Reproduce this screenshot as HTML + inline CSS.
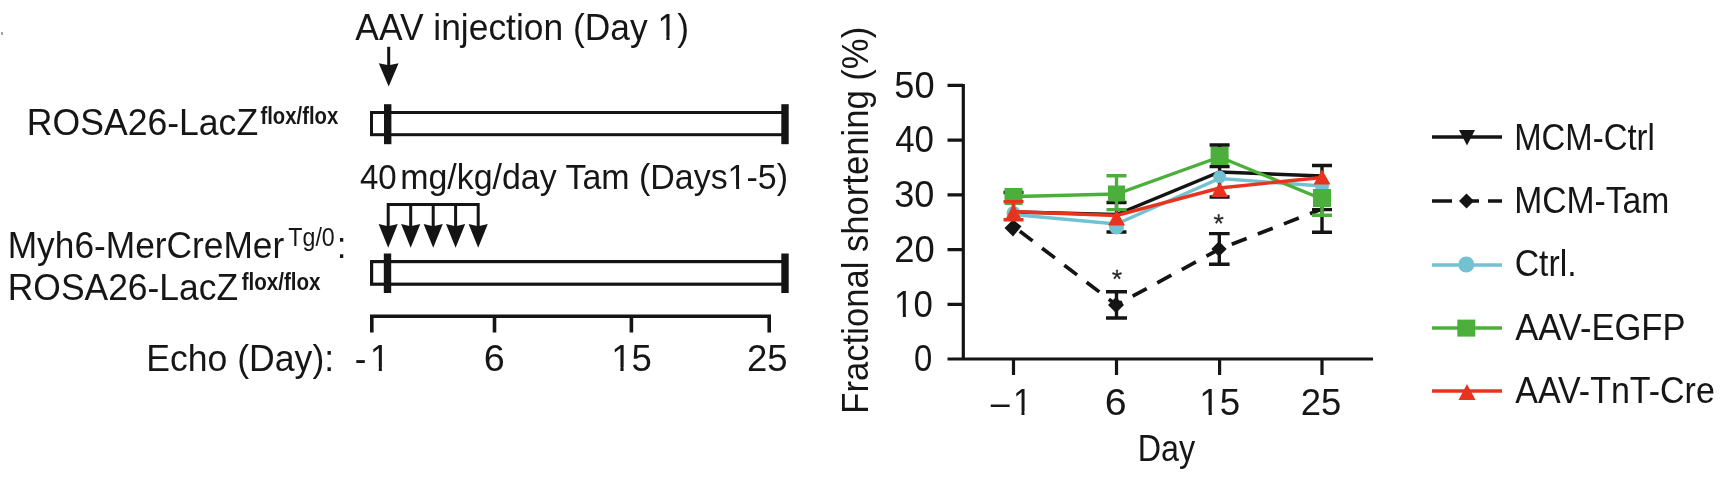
<!DOCTYPE html>
<html><head><meta charset="utf-8">
<style>
html,body{margin:0;padding:0;background:#fff;width:1722px;height:486px;overflow:hidden}
svg{display:block;will-change:transform}
text{font-family:"Liberation Sans",sans-serif;fill:#161616}
</style></head>
<body>
<svg width="1722" height="486" viewBox="0 0 1722 486">
<rect width="1722" height="486" fill="#fff"/>
<rect x="1" y="32" width="2" height="3" fill="#aaa49e"/>
<g id="left" fill="#141414" stroke="none">
  <!-- single arrow -->
  <line x1="388.7" y1="46.8" x2="388.7" y2="75" stroke="#141414" stroke-width="3"/>
  <polygon points="378.8,63.3 388.7,65.2 398.6,63.3 388.7,86.5" />
  <!-- box 1 -->
  <rect x="371.5" y="112.5" width="413" height="22.2" fill="none" stroke="#141414" stroke-width="3"/>
  <rect x="384" y="104.2" width="7.4" height="40" />
  <rect x="781.3" y="104.2" width="7.4" height="40" />
  <!-- 5 arrows -->
  <path d="M388.2,227 V204.5 H478.2 V236 M410.7,204.5 V236 M433.2,204.5 V236 M455.6,204.5 V236" fill="none" stroke="#141414" stroke-width="3"/>
  <polygon points="378.6,224 388.2,226.3 397.8,224 388.2,247.8" />
  <polygon points="401.1,224 410.7,226.3 420.3,224 410.7,247.8" />
  <polygon points="423.6,224 433.2,226.3 442.8,224 433.2,247.8" />
  <polygon points="446.0,224 455.6,226.3 465.2,224 455.6,247.8" />
  <polygon points="468.6,224 478.2,226.3 487.8,224 478.2,247.8" />
  <!-- box 2 -->
  <rect x="371.6" y="261.6" width="413" height="22.6" fill="none" stroke="#141414" stroke-width="3.2"/>
  <rect x="383.8" y="253.5" width="7.4" height="39.5" />
  <rect x="781.3" y="253.5" width="7.4" height="39.5" />
  <!-- echo axis -->
  <path d="M371.8,332.6 V316.2 H769.2 V332.6 M494.5,316.2 V332.6 M631.4,316.2 V332.6" fill="none" stroke="#141414" stroke-width="3.6"/>
</g>

<g id="chart">
  <!-- axes -->
  <path d="M963.3,84 V360.5 M947.5,359 H1373 M947.5,85.4 H963 M947.5,140.1 H963 M947.5,194.9 H963 M947.5,249.6 H963 M947.5,304.4 H963 M1013.5,359 V375 M1116.5,359 V375 M1219.6,359 V375 M1322,359 V375" fill="none" stroke="#141414" stroke-width="3.2"/>

  <!-- blue Ctrl -->
  <polyline points="1013.5,214.5 1116.5,224 1219.6,178.5 1322,186" fill="none" stroke="#72c2d2" stroke-width="3.4"/>
  <!-- black MCM-Ctrl -->
  <polyline points="1013.5,212 1116.5,214.5 1219.6,172 1322,176" fill="none" stroke="#141414" stroke-width="3.4"/>
  <path d="M1013.5,192.5 V222 M1116.5,202.5 V232 M1219.6,145 V197 M1322,165.5 V232.3
           M1003.5,192.5 H1023.5 M1106.5,202.5 H1126.5 M1106.5,232 H1126.5
           M1209.6,145 H1229.6 M1209.6,166.6 H1229.6 M1209.6,197 H1229.6
           M1312,165.5 H1332 M1312,209.6 H1332 M1312,232.3 H1332" fill="none" stroke="#141414" stroke-width="3.4"/>
  <!-- blue markers -->
  <g fill="#72c2d2">
    <circle cx="1116.5" cy="227" r="7.5"/>
    <circle cx="1219.6" cy="177" r="6.5"/>
    <circle cx="1322" cy="186" r="7"/>
    <circle cx="1013.5" cy="213" r="7"/>
  </g>
  <!-- MCM-Tam dashed -->
  <polyline points="1013.5,226.3 1116.5,305 1219.6,249 1322,209" fill="none" stroke="#141414" stroke-width="3.7" stroke-dasharray="16,12" stroke-dashoffset="-8"/>
  <path d="M1116.5,291.7 V318 M1106,291.7 H1127 M1106,318 H1127
           M1219.3,233.6 V264.2 M1209,233.6 H1229.6 M1209,264.2 H1229.6" fill="none" stroke="#141414" stroke-width="3.4"/>
  <g fill="#141414">
    <polygon points="1013,219.5 1021.5,226.3 1013,236.5 1004.5,228"/>
    <polygon points="1116,297 1124,305 1116,313 1108,305"/>
    <polygon points="1219,241.3 1226.7,249 1219,256.7 1211.3,249"/>
  </g>
  <!-- green AAV-EGFP -->
  <polyline points="1013.5,196.5 1116.5,194 1219.6,157 1322,199" fill="none" stroke="#4daf3b" stroke-width="3.4"/>
  <path d="M1116.5,175.8 V209.6 M1106.5,175.8 H1126.5 M1106.5,209.6 H1126.5
           M1322,199 V215.3 M1312,215.3 H1332" fill="none" stroke="#4daf3b" stroke-width="3.4"/>
  <g fill="#4daf3b">
    <rect x="1004.5" y="188" width="18" height="17"/>
    <rect x="1108" y="185.5" width="17" height="16"/>
    <rect x="1210.6" y="147" width="18" height="18"/>
    <rect x="1313" y="189" width="18" height="18"/>
  </g>
  <!-- red AAV-TnT-Cre -->
  <polyline points="1013.5,211.7 1116.5,215.5 1219.6,188 1322,177.5" fill="none" stroke="#e8331f" stroke-width="3.4"/>
  <path d="M1013.5,201.6 V219.7 M1003.5,201.6 H1023.5 M1003.5,219.7 H1023.5" fill="none" stroke="#e8331f" stroke-width="3.4"/>
  <g fill="#e8331f">
    <polygon points="1013.5,203.5 1022,220.5 1005,220.5"/>
    <polygon points="1116.5,210 1125,225.5 1108,225.5"/>
    <polygon points="1219.6,182 1228.1,197 1211.1,197"/>
    <polygon points="1322,169.5 1330.5,184.5 1313.5,184.5"/>
  </g>
</g>

<g id="asterisks" fill="#222" stroke="#222" stroke-width="0.5" stroke-linejoin="round">
  <path transform="translate(1117,275) scale(0.85)" d="M-0.9,-6 h1.8 l-0.3,4.6 l4.3,-1.6 l0.6,1.7 l-4.4,1.3 l2.9,3.6 l-1.5,1.1 l-2.5,-3.8 l-2.5,3.8 l-1.5,-1.1 l2.9,-3.6 l-4.4,-1.3 l0.6,-1.7 l4.3,1.6 z"/>
  <path transform="translate(1218.7,219.5) scale(0.85)" d="M-0.9,-6 h1.8 l-0.3,4.6 l4.3,-1.6 l0.6,1.7 l-4.4,1.3 l2.9,3.6 l-1.5,1.1 l-2.5,-3.8 l-2.5,3.8 l-1.5,-1.1 l2.9,-3.6 l-4.4,-1.3 l0.6,-1.7 l4.3,1.6 z"/>
</g>

<g id="legend">
  <g stroke-width="3.4" fill="none">
    <line x1="1432" y1="137" x2="1502" y2="137" stroke="#141414"/>
    <path d="M1432,201 H1452 M1466,201 H1479 M1488,201 H1502" stroke="#141414"/>
    <line x1="1432" y1="265" x2="1502" y2="265" stroke="#72c2d2"/>
    <line x1="1432" y1="328" x2="1502" y2="328" stroke="#4daf3b"/>
    <line x1="1432" y1="391" x2="1502" y2="391" stroke="#e8331f"/>
  </g>
  <polygon points="1459,130 1475,130 1467,145.5" fill="#141414"/>
  <polygon points="1466.5,193.5 1474,201 1466.5,208.5 1459,201" fill="#141414"/>
  <circle cx="1466.3" cy="264.5" r="8" fill="#72c2d2"/>
  <rect x="1457.3" y="319.6" width="18" height="17" fill="#4daf3b"/>
  <polygon points="1467,384 1475.5,400 1458.5,400" fill="#e8331f"/>
</g>

<g id="t_aav" transform="translate(0,39.70) scale(1,1.06)"><text x="355.36" y="0" font-size="35.40" textLength="333.56" lengthAdjust="spacingAndGlyphs">AAV injection (Day 1)</text><rect x="659.15" y="-3.44" width="7.21" height="4.24" fill="#fff"/><rect x="669.49" y="-3.44" width="7.13" height="4.24" fill="#fff"/></g>
<g id="t_rosa1" transform="translate(0,135.20) scale(1,1.06)"><text x="26.86" y="0" font-size="35.50" textLength="231.26" lengthAdjust="spacingAndGlyphs">ROSA26-LacZ</text></g>
<g id="t_flox1" transform="translate(0,124.20) scale(1,1.06)"><text x="260.46" y="0" font-size="22.30" font-weight="bold" textLength="77.73" lengthAdjust="spacingAndGlyphs">flox/flox</text></g>
<g id="t_40" transform="translate(0,188.60) scale(1,1.06)"><text x="359.92" y="0" font-size="33.00">40</text></g>
<g id="t_mg" transform="translate(0,188.70) scale(1,1.06)"><text x="400.20" y="0" font-size="33.50" textLength="387.74" lengthAdjust="spacingAndGlyphs">mg/kg/day Tam (Days1-5)</text><rect x="729.19" y="-3.30" width="6.95" height="4.10" fill="#fff"/><rect x="739.14" y="-3.30" width="6.89" height="4.10" fill="#fff"/></g>
<g id="t_myh6" transform="translate(0,257.60) scale(1,1.06)"><text x="7.72" y="0" font-size="35.30">Myh6-MerCreMer</text></g>
<g id="t_tg0" transform="translate(0,245.90) scale(1,1.06)"><text x="288.36" y="0" font-size="23.70" textLength="46.42" lengthAdjust="spacingAndGlyphs">Tg/0</text></g>
<g id="t_colon" transform="translate(0,257.50) scale(1,1.06)"><text x="336.63" y="0" font-size="35.00">:</text></g>
<g id="t_rosa2" transform="translate(0,299.90) scale(1,1.06)"><text x="7.72" y="0" font-size="35.50" textLength="230.45" lengthAdjust="spacingAndGlyphs">ROSA26-LacZ</text></g>
<g id="t_flox2" transform="translate(0,290.30) scale(1,1.06)"><text x="241.64" y="0" font-size="22.30" font-weight="bold" textLength="78.95" lengthAdjust="spacingAndGlyphs">flox/flox</text></g>
<g id="t_echo" transform="translate(0,371.30) scale(1,1.06)"><text x="146.28" y="0" font-size="35.50" textLength="187.86" lengthAdjust="spacingAndGlyphs">Echo (Day):</text></g>
<g id="t_em1" transform="translate(0,370.60) scale(1,1.06)"><text x="354.82" y="0" font-size="35.00">-<tspan dx="3.5">1</tspan></text><rect x="371.65" y="-3.41" width="7.14" height="4.21" fill="#fff"/><rect x="381.88" y="-3.41" width="7.06" height="4.21" fill="#fff"/></g>
<g id="t_e6" transform="translate(0,370.70) scale(1,1.06)"><text x="483.82" y="0" font-size="35.00" textLength="21.03" lengthAdjust="spacingAndGlyphs">6</text></g>
<g id="t_e15" transform="translate(0,370.70) scale(1,1.06)"><text x="611.20" y="0" font-size="35.00" textLength="40.64" lengthAdjust="spacingAndGlyphs">15</text><rect x="612.98" y="-3.41" width="7.41" height="4.21" fill="#fff"/><rect x="623.62" y="-3.41" width="7.32" height="4.21" fill="#fff"/></g>
<g id="t_e25" transform="translate(0,370.70) scale(1,1.06)"><text x="746.92" y="0" font-size="35.00" textLength="40.60" lengthAdjust="spacingAndGlyphs">25</text></g>
<g id="t_y50" transform="translate(0,97.50) scale(1,1.06)"><text x="894.28" y="0" font-size="34.00" textLength="40.28" lengthAdjust="spacingAndGlyphs">50</text></g>
<g id="t_y40" transform="translate(0,152.30) scale(1,1.06)"><text x="895.18" y="0" font-size="34.00" textLength="38.80" lengthAdjust="spacingAndGlyphs">40</text></g>
<g id="t_y30" transform="translate(0,207.00) scale(1,1.06)"><text x="894.28" y="0" font-size="34.00" textLength="40.14" lengthAdjust="spacingAndGlyphs">30</text></g>
<g id="t_y20" transform="translate(0,261.80) scale(1,1.06)"><text x="894.28" y="0" font-size="34.00" textLength="40.47" lengthAdjust="spacingAndGlyphs">20</text></g>
<g id="t_y10" transform="translate(0,317.00) scale(1,1.06)"><text x="894.10" y="0" font-size="34.00" textLength="38.71" lengthAdjust="spacingAndGlyphs">10</text><rect x="895.75" y="-3.34" width="7.10" height="4.14" fill="#fff"/><rect x="905.93" y="-3.34" width="7.03" height="4.14" fill="#fff"/></g>
<g id="t_y0" transform="translate(0,371.00) scale(1,1.06)"><text x="913.90" y="0" font-size="34.00" textLength="18.24" lengthAdjust="spacingAndGlyphs">0</text></g>
<g id="t_xm1" transform="translate(0,414.90) scale(1,1.06)"><text x="990.80" y="0" font-size="34.00">–<tspan dx="3.2">1</tspan></text><rect x="1014.50" y="-3.34" width="6.96" height="4.14" fill="#fff"/><rect x="1024.46" y="-3.34" width="6.89" height="4.14" fill="#fff"/></g>
<g id="t_x6" transform="translate(0,414.90) scale(1,1.06)"><text x="1104.82" y="0" font-size="34.00" textLength="21.86" lengthAdjust="spacingAndGlyphs">6</text></g>
<g id="t_x15" transform="translate(0,414.90) scale(1,1.06)"><text x="1199.38" y="0" font-size="34.00" textLength="40.88" lengthAdjust="spacingAndGlyphs">15</text><rect x="1201.18" y="-3.34" width="7.45" height="4.14" fill="#fff"/><rect x="1211.88" y="-3.34" width="7.36" height="4.14" fill="#fff"/></g>
<g id="t_x25" transform="translate(0,414.90) scale(1,1.06)"><text x="1300.82" y="0" font-size="34.00" textLength="40.57" lengthAdjust="spacingAndGlyphs">25</text></g>
<g id="t_day" transform="translate(0,461.40) scale(1,1.06)"><text x="1137.74" y="0" font-size="34.00" textLength="57.43" lengthAdjust="spacingAndGlyphs">Day</text></g>
<g id="t_l1" transform="translate(0,149.50) scale(1,1.06)"><text x="1514.18" y="0" font-size="34.00" textLength="140.60" lengthAdjust="spacingAndGlyphs">MCM-Ctrl</text></g>
<g id="t_l2" transform="translate(0,212.80) scale(1,1.06)"><text x="1514.18" y="0" font-size="34.00" textLength="155.13" lengthAdjust="spacingAndGlyphs">MCM-Tam</text></g>
<g id="t_l3" transform="translate(0,276.20) scale(1,1.06)"><text x="1514.72" y="0" font-size="34.00" textLength="61.96" lengthAdjust="spacingAndGlyphs">Ctrl.</text></g>
<g id="t_l4" transform="translate(0,340.00) scale(1,1.06)"><text x="1515.26" y="0" font-size="34.00" textLength="170.19" lengthAdjust="spacingAndGlyphs">AAV-EGFP</text></g>
<g id="t_l5" transform="translate(0,403.00) scale(1,1.06)"><text x="1515.26" y="0" font-size="34.00">AAV-TnT-Cre</text></g>
<g id="t_ylab" transform="translate(868.00,410.50) rotate(-90) scale(1,1.06)"><text x="-3.15" y="0" font-size="34.60" textLength="386.82" lengthAdjust="spacingAndGlyphs">Fractional shortening (%)</text></g>
</svg>
</body></html>
